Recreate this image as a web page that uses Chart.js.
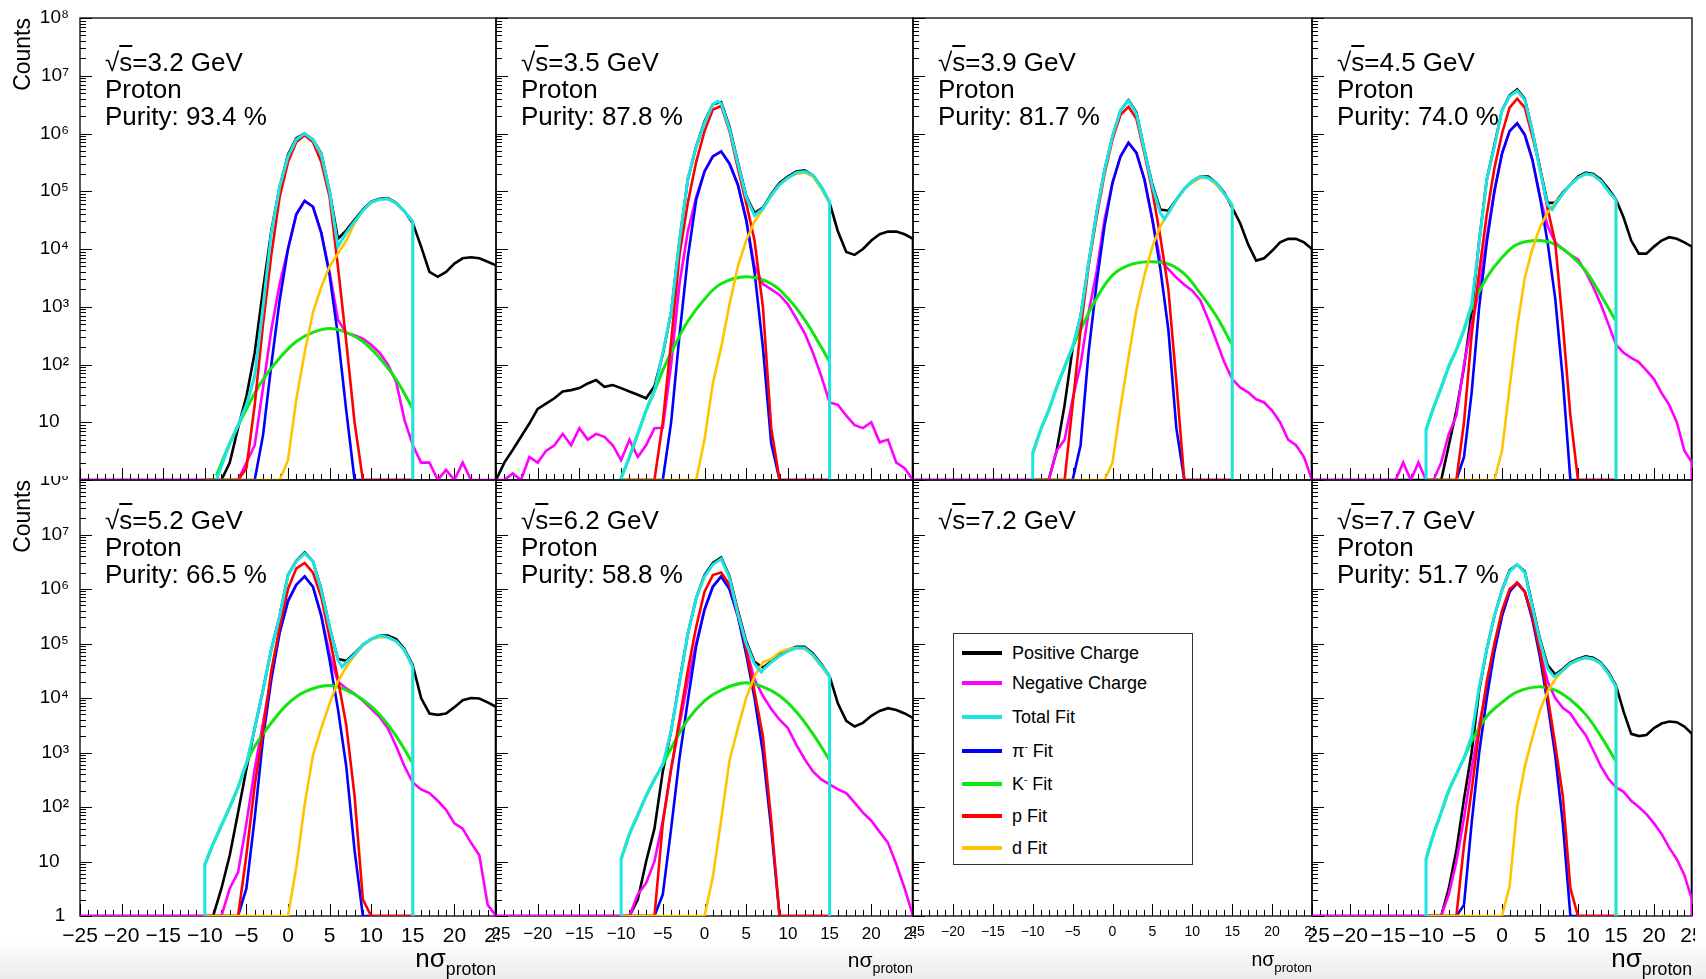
<!DOCTYPE html>
<html>
<head>
<meta charset="utf-8">
<title>Proton purity from nσ fits</title>
<script src="https://cdn.jsdelivr.net/npm/chart.js@4.4.1/dist/chart.umd.min.js"></script>
<style>
  html, body { margin: 0; padding: 0; }
  body {
    width: 1706px; height: 979px; overflow: hidden; position: relative;
    background: linear-gradient(to bottom, #fff 0px, #fff 940px, #ebebeb 979px);
    font-family: "Liberation Sans", Arial, Helvetica, sans-serif; color: #000;
  }
  canvas { position: absolute; }
  .note { position: absolute; font-size: 26px; line-height: 27px; white-space: nowrap; }
  .note .bar { text-decoration: overline; }
  .xtitle { position: absolute; line-height: 1; white-space: nowrap; }
  .xtitle span { position: relative; }
  #legend {
    position: absolute; left: 953px; top: 633px; width: 238px; height: 230px;
    border: 1px solid #333; background: #fff; font-size: 18px; z-index: 5;
  }
  #legend .row { position: absolute; left: 8px; height: 20px; display: flex; align-items: center; white-space: nowrap; }
  #legend .swatch { width: 40px; height: 4px; margin-right: 10px; }
  #legend sup { font-size: 10px; }
</style>
</head>
<body>
<div id="legend"></div>
<script>
// Bin centres (nσ_proton)
const binsWide = [-25, -24, -23, -22, -21, -20, -19, -18, -17, -16, -15, -14, -13, -12, -11, -10, -9, -8, -7, -6,
  -5, -4, -3, -2, -1, 0, 1, 2, 3, 4, 5, 6, 7, 8, 9, 10, 11, 12, 13, 14, 15, 16, 17, 18, 19, 20, 21, 22, 23, 24, 25];
const binsCore = [-10, -9, -8, -7, -6, -5, -4, -3, -2, -1, 0, 1, 2, 3, 4, 5, 6, 7, 8, 9,
  10, 11, 12, 13, 14, 15, 16, 17, 18, 19, 20, 21, 22, 23, 24, 25];
const binsFit = [-6, -5, -4, -3, -2, -1, 0, 1, 2, 3, 4, 5, 6, 7, 8, 9, 10, 11, 12, 13, 14, 15];

// 3.2 GeV
const pos32 = [1, 1, 1, 2, 8, 28, 160, 2000, 2.1e4, 1.2e5,
  4.3e5, 8.3e5, 1.0e6, 7.8e5, 4.5e5, 1.0e5, 1.5e4, 2.1e4, 3.2e4, 4.8e4,
  6.6e4, 7.4e4, 7.6e4, 6.3e4, 4.5e4, 2.8e4, 1.1e4, 4000, 3300, 4000,
  5600, 6900, 7200, 6900, 6000, 5200];
const neg32 = [1, 1, 1, 1, 1, 2, 4, 40, 400, 2500,
  1.0e4, 4.0e4, 6.8e4, 5.4e4, 1.9e4, 4000, 600, 350, 320, 280,
  220, 160, 100, 50, 11, 4, 2, 2, 1, 1.5,
  1, 2, 1, 1, 1, 1];
const pi32 = [1, 1, 1, 6, 100, 1300, 1.0e4, 4.0e4, 6.8e4, 5.4e4,
  1.9e4, 3500, 320, 16, 1, 1, 1, 1, 1, 1, 1, 1];
const p32 = [1, 1.6, 20, 500, 8000, 8.0e4, 3.2e5, 7.1e5, 9.3e5, 7.1e5,
  3.2e5, 8.0e4, 5000, 250, 10, 1, 1, 1, 1, 1, 1, 1];
const d32 = [1, 1, 1, 1, 1, 1, 2.2, 25, 160, 800,
  2200, 5000, 8300, 1.4e4, 2.8e4, 4.6e4, 6.3e4, 7.2e4, 7.4e4, 6.2e4, 4.5e4, 3.0e4];
const tot32 = [[-8.6, 1], [-7, 4.3], [-6, 8.9], [-5, 20], [-4, 63], [-3, 1000], [-2, 1.9e4], [-1, 1.2e5],
  [0, 4.0e5], [1, 7.9e5], [2, 1.0e6], [3, 7.8e5], [4, 4.3e5], [5, 1.0e5], [6, 1.1e4], [7, 1.9e4], [8, 3.0e4],
  [9, 4.6e4], [10, 6.5e4], [11, 7.2e4], [12, 7.4e4], [13, 6.2e4], [14, 4.5e4], [15, 3.0e4], [15, 1]];
const k32 = [[-8.6, 1.2], [-7, 4.3], [-5, 17], [-3, 55], [-1, 130], [1, 250], [3, 360], [5, 420], [7, 360],
  [9, 250], [11, 130], [13, 55], [15, 17]];

// 3.5 GeV
const pos35 = [1, 2, 3.3, 5.6, 9.5, 17, 21, 26, 34, 36,
  39, 47, 54, 41, 44, 39, 34, 30, 26, 42,
  150, 800, 1.4e4, 1.6e5, 5.9e5, 1.6e6, 3.2e6, 3.5e6, 1.3e6, 3.2e5,
  8.3e4, 4.2e4, 5.2e4, 8.9e4, 1.4e5, 1.8e5, 2.2e5, 2.3e5, 1.9e5, 1.2e5,
  6.3e4, 2.0e4, 8900, 7900, 1.0e4, 1.4e4, 1.8e4, 2.0e4, 2.0e4, 1.8e4,
  1.5e4];
const neg35 = [1, 1, 1.3, 1, 2.5, 2, 3.2, 4, 6.3, 4,
  7.9, 5, 6.3, 5.6, 4, 2.2, 5, 2.5, 4, 7.9,
  8, 100, 2500, 2.0e4, 7.9e4, 2.2e5, 4.0e5, 4.9e5, 3.0e5, 1.3e5,
  3.2e4, 5000, 2500, 2000, 1600, 1100, 630, 350, 160, 63,
  22, 20, 13, 8.9, 7.9, 10, 4.5, 5, 2, 1.6,
  1];
const pi35 = [1, 1, 10, 320, 7100, 7.1e4, 2.2e5, 4.0e5, 4.9e5, 3.0e5,
  1.3e5, 3.2e4, 4000, 200, 4.3, 1, 1, 1, 1, 1, 1, 1];
const p35 = [1, 10, 250, 7900, 6.3e4, 3.2e5, 1.1e6, 2.6e6, 3.0e6, 1.1e6,
  2.5e5, 6.3e4, 1.4e4, 1000, 7.9, 1, 1, 1, 1, 1, 1, 1];
const d35 = [1, 1, 1, 1, 1, 1, 5, 47, 200, 1100,
  5000, 1.4e4, 3.0e4, 4.8e4, 8.3e4, 1.3e5, 1.7e5, 2.0e5, 2.1e5, 1.8e5, 1.1e5, 6.3e4];
const tot35 = [[-10.1, 1], [-9, 2.5], [-8, 6.3], [-7, 16], [-6, 35], [-5, 160], [-4, 800], [-3, 1.4e4],
  [-2, 1.6e5], [-1, 5.9e5], [0, 1.5e6], [1, 3.2e6], [1.6, 3.6e6], [2, 3.3e6], [3, 1.2e6], [4, 3.0e5],
  [5, 7.9e4], [6, 3.8e4], [7, 5.0e4], [8, 8.5e4], [9, 1.3e5], [10, 1.7e5], [11, 2.1e5], [12, 2.2e5],
  [13, 1.9e5], [14, 1.2e5], [15, 6.6e4], [15, 1]];
const k35 = [[-10.1, 1], [-9, 2.5], [-8, 6.3], [-7, 16], [-6, 35], [-5, 79], [-4, 160], [-2, 560], [0, 1350],
  [2, 2500], [5, 3300], [8, 2500], [10, 1400], [12, 600], [14, 200], [15, 110]];

// 3.9 GeV
const pos39 = [1, 1, 1, 3.2, 20, 190, 680, 5600, 4.2e4, 2.3e5,
  8.9e5, 2.5e6, 3.8e6, 2.3e6, 5.2e5, 1.3e5, 4.8e4, 4.6e4, 7.2e4, 1.1e5,
  1.5e5, 1.8e5, 1.8e5, 1.4e5, 9.5e4, 5.2e4, 2.8e4, 1.2e4, 6300, 6900,
  9300, 1.3e4, 1.5e4, 1.5e4, 1.3e4, 1.0e4];
const neg39 = [1, 1, 1, 3.2, 5, 25, 100, 790, 4000, 3.2e4,
  1.4e5, 4.0e5, 6.9e5, 4.6e5, 1.6e5, 3.2e4, 6300, 4500, 3200, 2400,
  1900, 1300, 600, 260, 110, 56, 40, 33, 25, 22,
  16, 10, 5, 4, 2.5, 1];
const pi39 = [1, 1, 4, 160, 2500, 2.5e4, 1.4e5, 4.0e5, 6.9e5, 4.6e5,
  1.6e5, 3.2e4, 4500, 400, 7.9, 1, 1, 1, 1, 1, 1, 1];
const p39 = [1, 20, 400, 5000, 3.5e4, 2.0e5, 7.9e5, 2.1e6, 2.9e6, 1.8e6,
  4.5e5, 1.0e5, 1.6e4, 2000, 50, 1, 1, 1, 1, 1, 1, 1];
const d39 = [1, 1, 1, 1, 1, 1, 2, 18, 130, 890,
  3500, 1.1e4, 2.5e4, 4.2e4, 6.9e4, 1.1e5, 1.4e5, 1.7e5, 1.7e5, 1.3e5, 8.9e4, 5.6e4];
const tot39 = [[-10, 1], [-10, 2.9], [-9, 7.4], [-8, 16], [-7, 40], [-6, 91], [-5, 200], [-4, 680], [-3, 5600],
  [-2, 4.2e4], [-1, 2.3e5], [0, 8.9e5], [1, 2.5e6], [2, 3.7e6], [3, 2.2e6], [4, 5.1e5], [5, 1.2e5], [6, 4.2e4],
  [6.5, 3.3e4], [7, 4.2e4], [8, 7.1e4], [9, 1.1e5], [10, 1.5e5], [11, 1.8e5], [12, 1.7e5], [13, 1.4e5],
  [14, 9.1e4], [15, 5.8e4], [15, 1]];
const k39 = [[-10, 2.9], [-9, 7.4], [-8, 16], [-7, 40], [-6, 91], [-5, 200], [-4, 400], [-2, 1400], [0, 3500],
  [2, 5200], [4.5, 6000], [7, 5500], [9, 3700], [11, 1700], [13, 690], [14.9, 230]];

// 4.5 GeV
const pos45 = [1, 1, 1, 4, 16, 89, 800, 1.4e4, 1.6e5, 6.3e5,
  2.5e6, 4.6e6, 5.8e6, 4.0e6, 1.1e6, 2.5e5, 6.3e4, 6.3e4, 9.5e4, 1.3e5,
  1.8e5, 2.1e5, 2.0e5, 1.6e5, 1.1e5, 7.2e4, 3.5e4, 1.4e4, 8300, 8300,
  1.1e4, 1.4e4, 1.6e4, 1.5e4, 1.3e4, 1.1e4];
const neg45 = [1, 1, 1, 1, 1, 1, 1, 1, 1, 1,
  1, 1, 2, 1, 2, 1, 1, 2, 6.3, 13,
  100, 500, 2000, 1.6e4, 1.0e5, 4.5e5, 1.1e6, 1.5e6, 9.5e5, 3.5e5,
  7.9e4, 2.5e4, 1.3e4, 1.0e4, 7900, 6600, 4000, 2200, 1100, 500,
  220, 160, 130, 110, 79, 56, 32, 20, 10, 3.2,
  2];
const pi45 = [1, 2.5, 32, 1000, 1.3e4, 1.0e5, 4.5e5, 1.1e6, 1.5e6, 9.5e5,
  3.5e5, 7.9e4, 1.3e4, 1400, 56, 1, 1, 1, 1, 1, 1, 1];
const p45 = [1, 10, 320, 4000, 4.0e4, 2.5e5, 1.0e6, 2.8e6, 4.0e6, 2.8e6,
  8.9e5, 2.5e5, 5.0e4, 1.3e4, 500, 13, 1, 1, 1, 1, 1, 1];
const d45 = [1, 1, 1, 1, 1, 1, 3.2, 40, 450, 3200,
  1.0e4, 2.4e4, 4.3e4, 6.3e4, 8.9e4, 1.3e5, 1.7e5, 2.0e5, 1.9e5, 1.5e5, 1.0e5, 6.8e4];
const tot45 = [[-10, 1], [-10, 7.4], [-9, 18], [-8, 40], [-7, 93], [-6, 180], [-5, 400], [-4, 1100], [-3, 1.3e4],
  [-2, 1.6e5], [-1, 5.9e5], [0, 2.5e6], [1, 4.4e6], [2, 5.5e6], [3, 3.8e6], [4, 1.1e6], [5, 2.3e5], [6, 5.8e4],
  [6.6, 4.8e4], [7, 5.8e4], [8, 9.1e4], [9, 1.3e5], [10, 1.7e5], [11, 2.0e5], [12, 1.9e5], [13, 1.5e5],
  [14, 1.0e5], [15, 7.1e4], [15, 1]];
const k45 = [[-10, 7.4], [-9, 18], [-8, 40], [-7, 93], [-6, 180], [-5, 400], [-4, 950], [-2, 3200], [0, 7100],
  [2, 1.2e4], [4.8, 1.4e4], [7, 1.2e4], [9, 7900], [11, 4200], [13, 1600], [14.9, 590]];

// 5.2 GeV
const pos52 = [1, 1, 3.2, 13, 79, 500, 2800, 1.4e4, 7.9e4, 3.2e5,
  1.8e6, 3.3e6, 4.7e6, 3.2e6, 1.0e6, 2.0e5, 5.2e4, 4.8e4, 6.6e4, 9.5e4,
  1.2e5, 1.4e5, 1.4e5, 1.2e5, 7.9e4, 4.0e4, 1.0e4, 5200, 4900, 5200,
  6800, 9100, 1.0e4, 9800, 8300, 6900];
const neg52 = [1, 1, 1, 3.2, 6.3, 50, 500, 3500, 2.5e4, 1.6e5,
  6.0e5, 1.2e6, 1.7e6, 1.1e6, 3.3e5, 6.3e4, 2.0e4, 1.5e4, 1.2e4, 8900,
  6300, 4500, 2800, 1300, 560, 280, 210, 180, 130, 89,
  50, 40, 22, 13, 1.6, 1];
const pi52 = [1, 3.2, 63, 1800, 2.2e4, 1.6e5, 6.0e5, 1.2e6, 1.7e6, 1.1e6,
  3.2e5, 5.0e4, 6300, 560, 16, 1, 1, 1, 1, 1, 1, 1];
const p52 = [1, 13, 250, 2500, 3.2e4, 2.0e5, 1.0e6, 2.4e6, 3.0e6, 2.0e6,
  7.1e5, 1.3e5, 2.2e4, 3200, 160, 2, 1, 1, 1, 1, 1, 1];
const d52 = [1, 1, 1, 1, 1, 1, 1, 7.9, 110, 890,
  2800, 7900, 2.0e4, 3.7e4, 6.0e4, 9.1e4, 1.2e5, 1.3e5, 1.3e5, 1.1e5, 7.4e4, 3.7e4];
const tot52 = [[-10, 1], [-10, 8.7], [-9, 21], [-8, 46], [-7, 100], [-6, 230], [-5, 630], [-4, 2800], [-3, 1.4e4],
  [-2, 7.9e4], [-1, 3.2e5], [0, 1.8e6], [1, 3.2e6], [2, 4.5e6], [3, 3.2e6], [4, 9.5e5], [5, 2.0e5], [6, 5.0e4],
  [6.5, 3.7e4], [7, 4.5e4], [8, 6.3e4], [9, 9.5e4], [10, 1.2e5], [11, 1.4e5], [12, 1.3e5], [13, 1.1e5],
  [14, 7.6e4], [15, 3.7e4], [15, 1]];
const k52 = [[-10, 8.7], [-9, 21], [-8, 46], [-7, 100], [-6, 230], [-5, 630], [-4, 1300], [-2, 3500], [0, 7900],
  [2, 1.3e4], [4.85, 1.7e4], [7, 1.4e4], [9, 9300], [11, 5000], [13, 2000], [15, 630]];

// 6.2 GeV
const pos62 = [1, 1, 2, 10, 40, 450, 2500, 2.0e4, 1.5e5, 6.8e5,
  1.8e6, 3.0e6, 3.8e6, 1.7e6, 4.0e5, 1.1e5, 4.6e4, 3.6e4, 4.7e4, 6.3e4,
  7.6e4, 8.7e4, 8.7e4, 6.6e4, 4.2e4, 2.5e4, 7900, 3800, 3000, 3500,
  4700, 5800, 6500, 6000, 5200, 4300];
const neg62 = [1, 1, 2.5, 4, 10, 56, 500, 3200, 2.0e4, 1.0e5,
  4.2e5, 1.1e6, 1.7e6, 1.0e6, 3.2e5, 7.9e4, 2.2e4, 1.1e4, 6300, 4000,
  2800, 1400, 760, 450, 320, 260, 210, 180, 120, 79,
  56, 35, 22, 8.9, 3.2, 1];
const pi62 = [1, 2.5, 40, 790, 8900, 8.9e4, 4.2e5, 1.1e6, 1.7e6, 1.0e6,
  3.2e5, 6.3e4, 1.0e4, 1000, 40, 1, 1, 1, 1, 1, 1, 1];
const p62 = [1, 50, 500, 4000, 3.2e4, 2.0e5, 8.9e5, 1.8e6, 2.0e6, 1.2e6,
  4.0e5, 7.9e4, 1.3e4, 2000, 56, 1, 1, 1, 1, 1, 1, 1];
const d62 = [1, 1, 1, 1, 1, 1, 1, 5.2, 58, 720,
  2800, 1.0e4, 2.5e4, 4.5e4, 5.2e4, 6.9e4, 7.9e4, 8.3e4, 7.9e4, 6.0e4, 3.8e4, 2.4e4];
const tot62 = [[-10, 1], [-10, 11], [-9, 32], [-8, 71], [-7, 160], [-6, 320], [-5, 600], [-4, 2500], [-3, 1.9e4],
  [-2, 1.5e5], [-1, 6.8e5], [0, 1.7e6], [1, 2.8e6], [2, 3.6e6], [3, 1.6e6], [4, 3.5e5], [5, 1.0e5], [6, 4.2e4],
  [6.8, 3.0e4], [7, 3.3e4], [8, 4.5e4], [9, 5.9e4], [10, 7.2e4], [11, 8.3e4], [12, 8.3e4], [13, 6.2e4],
  [14, 4.0e4], [15, 2.5e4], [15, 1]];
const k62 = [[-10, 11], [-9, 32], [-8, 71], [-7, 160], [-6, 320], [-5, 600], [-4, 1200], [-2, 4000], [0, 8900],
  [2, 1.4e4], [4.9, 1.9e4], [7, 1.6e4], [9, 1.1e4], [11, 5600], [13, 2200], [15, 720]];

// 7.7 GeV
const pos77 = [1, 1, 1, 3.2, 16, 140, 1000, 1.4e4, 7.9e4, 3.2e5,
  9.5e5, 2.2e6, 2.8e6, 2.1e6, 5.0e5, 1.2e5, 4.0e4, 2.7e4, 3.4e4, 4.5e4,
  5.2e4, 5.8e4, 5.5e4, 4.5e4, 3.0e4, 1.7e4, 5600, 2200, 2000, 2100,
  2800, 3400, 3700, 3600, 3000, 2200];
const neg77 = [1, 1, 1, 2.5, 10, 63, 500, 3200, 1.6e4, 7.9e4,
  3.2e5, 8.9e5, 1.3e6, 8.9e5, 2.8e5, 7.1e4, 2.0e4, 1.0e4, 6600, 5200,
  3200, 2100, 1100, 560, 330, 230, 190, 130, 100, 74,
  50, 32, 18, 11, 5.6, 2];
const pi77 = [1, 1.6, 50, 1000, 1.0e4, 7.1e4, 3.2e5, 8.9e5, 1.3e6, 8.9e5,
  2.8e5, 5.6e4, 7900, 890, 50, 1, 1, 1, 1, 1, 1, 1];
const p77 = [1, 20, 200, 2500, 2.0e4, 1.0e5, 4.0e5, 1.0e6, 1.3e6, 8.9e5,
  3.2e5, 7.1e4, 1.1e4, 1400, 160, 3.2, 1, 1, 1, 1, 1, 1];
const d77 = [1, 1, 1, 1, 1, 1, 1, 3.5, 100, 550,
  1900, 6000, 1.3e4, 2.2e4, 3.2e4, 4.2e4, 4.9e4, 5.4e4, 5.1e4, 4.2e4, 2.8e4, 1.6e4];
const tot77 = [[-10, 1], [-10, 11], [-9, 32], [-8, 79], [-7, 200], [-6, 400], [-5, 790], [-4, 2000], [-3, 1.6e4],
  [-2, 7.9e4], [-1, 3.2e5], [0, 9.3e5], [1, 2.1e6], [2, 2.8e6], [3, 2.0e6], [4, 4.7e5], [5, 1.1e5], [6, 3.5e4],
  [6.8, 2.5e4], [7, 2.5e4], [8, 3.2e4], [9, 4.3e4], [10, 5.0e4], [11, 5.5e4], [12, 5.2e4], [13, 4.3e4],
  [14, 2.8e4], [15, 1.6e4], [15, 1]];
const k77 = [[-10, 11], [-9, 32], [-8, 79], [-7, 200], [-6, 400], [-5, 790], [-4, 1600], [-2, 4600], [0, 8300],
  [2, 1.3e4], [4.8, 1.6e4], [7, 1.4e4], [9, 9300], [11, 5000], [13, 2000], [14.9, 720]];

// Labels
const energies = ['3.2', '3.5', '3.9', '4.5', '5.2', '6.2', '7.2', '7.7'];
const purities = ['93.4', '87.8', '81.7', '74.0', '66.5', '58.8', null, '51.7'];
const seriesNames = ['Positive Charge', 'Negative Charge', 'Total Fit', 'π⁻ Fit', 'K⁻ Fit', 'p Fit', 'd Fit'];
const legendHtml = ['Positive Charge', 'Negative Charge', 'Total Fit', 'π<sup>-</sup> Fit', 'K<sup>-</sup> Fit', 'p Fit', 'd Fit'];
const seriesColors = ['#000000', '#ff00ff', '#1de4e4', '#0000ff', '#11e611', '#ff0000', '#ffc400'];
const yMajor = [1, 10, 100, 1e3, 1e4, 1e5, 1e6, 1e7, 1e8];
const yMajorLabels = ['1\u2009', '10\u2002', '10²', '10³', '10⁴', '10⁵', '10⁶', '10⁷', '10⁸'];

// Layout (page pixels)
const colEdges = [80, 496, 913, 1312, 1692];
const rowEdges = [18, 480, 916];
const xLabelSize = [21, 17, 14, 21];
const xTitleSize = [26, 21, 19.5, 26];
const legendRows = [19, 49, 83, 117, 150, 182, 214];
// draw order: lower number ends up on top
const zOrder = [6, 5, 0, 4, 3, 2, 1];

const panelData = [
  { pos: [binsCore, pos32], neg: [binsCore, neg32], tot: tot32, k: k32, pi: pi32, p: p32, d: d32 },
  { pos: [binsWide, pos35], neg: [binsWide, neg35], tot: tot35, k: k35, pi: pi35, p: p35, d: d35 },
  { pos: [binsCore, pos39], neg: [binsCore, neg39], tot: tot39, k: k39, pi: pi39, p: p39, d: d39 },
  { pos: [binsCore, pos45], neg: [binsWide, neg45], tot: tot45, k: k45, pi: pi45, p: p45, d: d45 },
  { pos: [binsCore, pos52], neg: [binsCore, neg52], tot: tot52, k: k52, pi: pi52, p: p52, d: d52 },
  { pos: [binsCore, pos62], neg: [binsCore, neg62], tot: tot62, k: k62, pi: pi62, p: p62, d: d62 },
  null,
  { pos: [binsCore, pos77], neg: [binsCore, neg77], tot: tot77, k: k77, pi: pi77, p: p77, d: d77 }
];

// Tick positions
const xTicks = binsWide;
const yTicks = [];
yMajor.forEach((m, i) => {
  yTicks.push({ value: m, major: true });
  if (i < yMajor.length - 1) {
    for (let s = 2; s <= 9; s++) yTicks.push({ value: m * s, major: false });
  }
});

Chart.defaults.font.family = '"Liberation Sans", Arial, Helvetica, sans-serif';
Chart.defaults.color = '#000';

// Histogram through bin centres, sitting on the axis outside [lo, hi]
function binLine(centres, counts, lo, hi) {
  const pts = [{ x: lo, y: 1 }];
  centres.forEach((c, i) => pts.push({ x: c, y: counts[i] }));
  pts.push({ x: Math.min(centres[centres.length - 1], hi), y: 1 });
  pts.push({ x: hi, y: 1 });
  return pts;
}

function curve(pairs) {
  return pairs.map(([x, y]) => ({ x, y }));
}

function datasets(d) {
  if (!d) return [];
  const hist = (i, pts) => ({
    label: seriesNames[i], data: pts, borderColor: seriesColors[i], borderWidth: 2.6,
    pointRadius: 0, order: zOrder[i]
  });
  const line = (i, pts, tension) => ({
    label: seriesNames[i], data: pts, borderColor: seriesColors[i], borderWidth: 3,
    tension: tension, pointRadius: 0, order: zOrder[i]
  });
  return [
    hist(0, binLine(d.pos[0], d.pos[1], -25, 25)),
    hist(1, binLine(d.neg[0], d.neg[1], -25, 25)),
    line(2, curve(d.tot), 0),
    hist(3, binLine(binsFit, d.pi, -10, 15)),
    line(4, curve(d.k), 0.4),
    hist(5, binLine(binsFit, d.p, -10, 15)),
    hist(6, binLine(binsFit, d.d, -10, 15))
  ];
}

// Frame and inward ticks, ROOT style
const rootFrame = {
  id: 'rootFrame',
  beforeDatasetsDraw(chart) {
    const { ctx, chartArea: a, scales: { x, y } } = chart;
    ctx.save();
    ctx.strokeStyle = '#000';
    ctx.lineWidth = 1;
    ctx.beginPath();
    x.ticks.forEach(t => {
      const px = Math.round(x.getPixelForValue(t.value)) + 0.5;
      const len = t.value % 5 === 0 ? 12 : 6;
      ctx.moveTo(px, a.bottom);
      ctx.lineTo(px, a.bottom - len);
    });
    y.ticks.forEach(t => {
      const py = Math.round(y.getPixelForValue(t.value)) + 0.5;
      const len = t.major ? 12 : 6;
      ctx.moveTo(a.left, py);
      ctx.lineTo(a.left + len, py);
    });
    ctx.stroke();
    ctx.lineWidth = 1.3;
    ctx.strokeRect(a.left, a.top, a.right - a.left, a.bottom - a.top);
    ctx.restore();
  }
};

function makePanel(k) {
  const r = Math.floor(k / 4), c = k % 4;
  const left = colEdges[c], right = colEdges[c + 1];
  const top = rowEdges[r], bottom = rowEdges[r + 1];
  const padL = c === 0 ? 80 : 3, padR = 3;
  const padT = r === 0 ? 18 : 4, padB = r === 0 ? 3 : 63;

  const cv = document.createElement('canvas');
  cv.width = right - left + padL + padR;
  cv.height = bottom - top + padT + padB;
  cv.style.left = (left - padL) + 'px';
  cv.style.top = (top - padT) + 'px';
  document.body.appendChild(cv);

  new Chart(cv, {
    type: 'line',
    data: { datasets: datasets(panelData[k]) },
    options: {
      responsive: false,
      animation: false,
      devicePixelRatio: 1,
      layout: { padding: { left: c === 0 ? 0 : padL, right: padR, top: padT, bottom: r === 0 ? padB : 0 } },
      plugins: { legend: { display: false }, tooltip: { enabled: false } },
      scales: {
        x: {
          type: 'linear', min: -25, max: 25,
          grid: { display: false }, border: { display: false },
          afterBuildTicks: s => { s.ticks = xTicks.map(v => ({ value: v })); },
          afterFit: s => { s.height = r === 0 ? 0 : padB; s.paddingLeft = 0; s.paddingRight = 0; },
          ticks: {
            display: r === 1, autoSkip: false, maxRotation: 0, minRotation: 0, padding: 0,
            font: { size: xLabelSize[c] },
            callback: v => (v % 5 === 0 ? String(v).replace('-', '\u2212') : '')
          }
        },
        y: {
          type: 'logarithmic', min: 1, max: 1e8,
          grid: { display: false }, border: { display: false },
          afterBuildTicks: s => { s.ticks = yTicks.map(t => ({ value: t.value, major: t.major })); },
          afterFit: s => { s.width = c === 0 ? padL : 0; s.paddingTop = 0; s.paddingBottom = 0; },
          ticks: {
            display: c === 0, autoSkip: false, padding: 3, font: { size: 19 },
            callback: v => {
              const i = yMajor.indexOf(v);
              if (i < 0 || (r === 0 && i === 0)) return '';
              return yMajorLabels[i];
            }
          },
          title: { display: c === 0, text: 'Counts', align: 'end', font: { size: 23 }, padding: { top: 10, bottom: 0 } }
        }
      }
    },
    plugins: [rootFrame]
  });
}

for (let k = 0; k < 8; k++) makePanel(k);

// Panel notes
energies.forEach((e, k) => {
  const r = Math.floor(k / 4), c = k % 4;
  const div = document.createElement('div');
  div.className = 'note';
  div.style.left = (colEdges[c] + 25) + 'px';
  div.style.top = (r === 0 ? 49 : 507) + 'px';
  let html = `√<span class="bar">s</span>=${e} GeV`;
  if (purities[k]) html += `<br>Proton<br>Purity: ${purities[k]} %`;
  div.innerHTML = html;
  document.body.appendChild(div);
});

// x-axis titles on the bottom row
for (let c = 0; c < 4; c++) {
  const f = xTitleSize[c];
  const div = document.createElement('div');
  div.className = 'xtitle';
  div.style.fontSize = f + 'px';
  div.style.right = (1706 - colEdges[c + 1]) + 'px';
  div.style.top = (967 - 0.85 * f) + 'px';
  div.innerHTML = `nσ<span style="font-size:${(0.68 * f).toFixed(1)}px; top:${(0.3 * f).toFixed(1)}px">proton</span>`;
  document.body.appendChild(div);
}

// Legend in the empty 7.2 GeV panel
const legend = document.getElementById('legend');
seriesNames.forEach((name, i) => {
  const row = document.createElement('div');
  row.className = 'row';
  row.style.top = (legendRows[i] - 10) + 'px';
  row.innerHTML = `<span class="swatch" style="background:${seriesColors[i]}"></span><span>${legendHtml[i]}</span>`;
  legend.appendChild(row);
});
</script>
</body>
</html>
